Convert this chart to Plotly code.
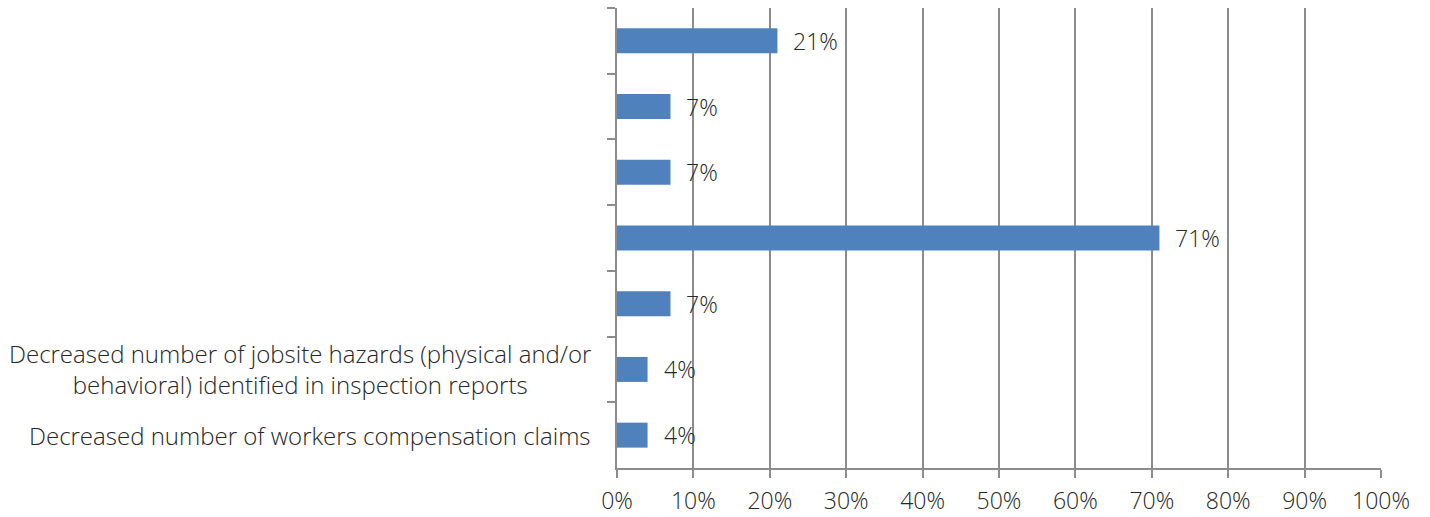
import plotly.graph_objects as go

# Data (top to bottom as shown)
categories = ["Outcome A", "Outcome B", "Outcome C", "Outcome D", "Outcome E",
              "Decreased number of jobsite hazards (physical and/or<br>behavioral) identified in inspection reports",
              "Decreased number of workers compensation claims"]
shown_labels = ["", "", "", "", "",
                "Decreased number of jobsite hazards (physical and/or<br>behavioral) identified in inspection reports",
                "Decreased number of workers compensation claims"]
values = [0.21, 0.07, 0.07, 0.71, 0.07, 0.04, 0.04]
value_labels = ["21%", "7%", "7%", "71%", "7%", "4%", "4%"]
x_ticks = [0, 0.1, 0.2, 0.3, 0.4, 0.5, 0.6, 0.7, 0.8, 0.9, 1.0]
x_ticktext = ["0%", "10%", "20%", "30%", "40%", "50%", "60%", "70%", "80%", "90%", "100%"]
top_fragment = "Formal program implemented as a"

FONT = "Open Sans"
TXT = "#262626"
GRID = "#8c8c8c"
FS = 23
FS_LAB = 24

fig = go.Figure()
fig.add_trace(go.Bar(
    x=values, y=categories, orientation="h",
    marker=dict(color="#4f81bd", line=dict(width=0)),
    hoverinfo="skip",
))

annotations = []
for c, v, t in zip(categories, values, value_labels):
    annotations.append(dict(x=v, y=c, xref="x", yref="y", text=t, showarrow=False,
                            xanchor="left", yanchor="middle", xshift=14,
                            font=dict(family=FONT, size=FS, color=TXT, weight=300)))
for c, lab in zip(categories, shown_labels):
    if lab:
        annotations.append(dict(x=0, y=c, xref="paper", yref="y", text=lab, showarrow=False,
                                xanchor="right", yanchor="middle", xshift=-24, align="center",
                                font=dict(family=FONT, size=FS_LAB, color=TXT, weight=300)))
annotations.append(dict(x=0, y=1, xref="paper", yref="paper", text=top_fragment, showarrow=False,
                        xanchor="left", yanchor="bottom", xshift=-602, yshift=5,
                        font=dict(family=FONT, size=FS_LAB, color=TXT, weight=300)))

fig.update_layout(
    width=1430, height=517,
    margin=dict(l=617, r=49, t=8, b=49, autoexpand=False),
    paper_bgcolor="white", plot_bgcolor="white",
    showlegend=False,
    bargap=0.62,
    annotations=annotations,
    xaxis=dict(range=[0, 1], tickvals=x_ticks, ticktext=x_ticktext,
               showgrid=True, gridcolor=GRID, gridwidth=1.5,
               showline=True, linecolor=GRID, linewidth=1.5,
               ticks="outside", ticklen=8, tickcolor=GRID, tickwidth=1.5,
               ticklabelstandoff=4, automargin=False,
               tickfont=dict(family=FONT, size=FS, color=TXT, weight=300),
               zeroline=False, fixedrange=True),
    yaxis=dict(type="category", categoryorder="array", categoryarray=categories,
               autorange="reversed", tickson="boundaries",
               showticklabels=False, automargin=False,
               showline=True, linecolor=GRID, linewidth=1.5,
               ticks="outside", ticklen=8, tickcolor=GRID, tickwidth=1.5,
               showgrid=False, zeroline=False, fixedrange=True),
)

fig.write_html("out.html", config={"displayModeBar": False},
               post_script="document.body.style.margin='0';document.body.style.overflow='hidden';")
